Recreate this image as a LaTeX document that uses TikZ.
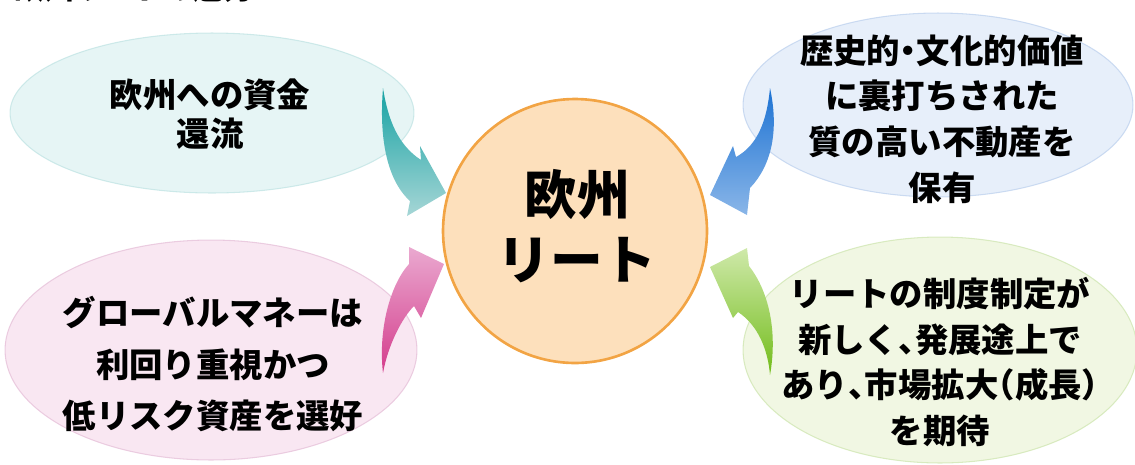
\documentclass[tikz,border=0pt]{standalone}
\usepackage{fontspec}
\newfontfamily\jp{Noto Sans CJK JP}
\usetikzlibrary{calc,shapes.geometric,positioning}
\definecolor{cyanin}{HTML}{E6F5F5}\definecolor{cyanout}{HTML}{BDE2E2}
\definecolor{pinkin}{HTML}{F9E7F2}\definecolor{pinkout}{HTML}{E4BCD6}
\definecolor{bluein}{HTML}{E7EFFA}\definecolor{blueout}{HTML}{BACFED}
\definecolor{greenin}{HTML}{F1F7E3}\definecolor{greenout}{HTML}{CCE4AC}
\definecolor{reitin}{HTML}{FDE0BC}\definecolor{reitout}{HTML}{F2A444}
\definecolor{cyandark}{HTML}{16A2A3}\definecolor{cyanlight}{HTML}{A6D6D6}
\definecolor{pinkdark}{HTML}{D43D8C}\definecolor{pinklight}{HTML}{EAA9D0}
\definecolor{bluedark}{HTML}{1C72D3}\definecolor{bluelight}{HTML}{8AB6E8}
\definecolor{greendark}{HTML}{72BC1A}\definecolor{greenlight}{HTML}{CFE9AA}
\colorlet{glowin}{white}\colorlet{glowout}{gray}
\pgfdeclareradialshading[glowin,glowout]{glow}{\pgfpoint{0bp}{0bp}}{color(0bp)=(glowin); color(30bp)=(glowin); color(45bp)=(glowout!60!glowin); color(50bp)=(glowout)}
% narrow punctuation
\newcommand\punctl[1]{\makebox[0.5em][l]{#1}}
\newcommand\punctr[1]{\makebox[0.5em][r]{#1}}
\newcommand\punctc[1]{\makebox[0.5em][c]{#1}}

\begin{document}
\begin{tikzpicture}[x=0.02cm,y=-0.02cm]

\tikzset{bubble/.style={shape=ellipse,inner sep=0pt,shade,shading=glow,draw=glowout,draw opacity=0.7,line width=0.6pt},
glowcols/.style 2 args={/utils/exec={\colorlet{glowin}{#1}\colorlet{glowout}{#2}}},
bubbletext/.style={font=\jp\bfseries\fontsize{19}{26}\selectfont,align=center,inner sep=0pt,text=black}}

\useasboundingbox (0,0) rectangle (1135,464);

% cut title
\node[anchor=south west,inner sep=0pt,font=\jp\bfseries\fontsize{17}{20}\selectfont] (title) at (14,3) {欧州リートの魅力};

% bubbles
\node[bubble,glowcols={cyanin}{cyanout},minimum width=8.08cm,minimum height=3.2cm] (inflow) at (212,113) {};
\node[bubble,glowcols={pinkin}{pinkout},minimum width=8.24cm,minimum height=4.4cm] (money) at (211,350) {};
\node[bubble,glowcols={bluein}{blueout},minimum width=7.8cm,minimum height=3.68cm] (quality) at (938,105) {};
\node[bubble,glowcols={greenin}{greenout},minimum width=7.88cm,minimum height=4.52cm] (growth) at (940,350) {};

\node[bubbletext,font=\jp\bfseries\fontsize{19}{22}\selectfont] (inflowtext) at ($(inflow)+(-2,1)$) {欧州への資金\\還流};
\node[bubbletext,font=\jp\bfseries\fontsize{19}{29.5}\selectfont] (moneytext) at ($(money)+(2,14)$) {グローバルマネーは\\利回り重視かつ\\低リスク資産を選好};
\node[bubbletext] (qualitytext) at ($(quality)+(4,14)$) {歴史的\punctc{・}文化的価値\\に裏打ちされた\\質の高い不動産を\\保有};
\node[bubbletext] (growthtext) at ($(growth)+(0,12)$) {リートの制度制定が\\新しく\punctl{、}発展途上で\\あり\punctl{、}市場拡大\punctr{（}成長\punctl{）}\\を期待};

% centre
\node[bubble,glowcols={reitin}{reitout},shape=circle,minimum size=5.28cm,draw=reitout,draw opacity=1,line width=1.5pt] (reit) at (575,231) {};
\node[bubbletext,font=\jp\bfseries\fontsize{30}{37}\selectfont] (reittext) at ($(reit)+(2,-5)$) {欧州\\リート};

% curved arrows
\shade[top color=cyandark,bottom color=cyanlight] (383,88) .. controls (388,120) and (398,145) .. (421,160) -- (420,146) -- (446,193) -- (407,216) -- (410,201) .. controls (392,185) and (378,150) .. cycle;
\shade[top color=pinklight,bottom color=pinkdark] (383,373) .. controls (378,330) and (390,285) .. (409,264) -- (409,247) -- (444,264) -- (421,318) -- (414,306) .. controls (402,318) and (388,345) .. cycle;
\shade[top color=bluedark,bottom color=bluelight] (770,88) .. controls (779,130) and (772,165) .. (750,188) -- (747,215) -- (710,195) -- (733,146) -- (736,157) .. controls (758,145) and (767,120) .. cycle;
\shade[top color=greenlight,bottom color=greendark] (770,375) .. controls (778,330) and (768,290) .. (749,266) -- (747,248) -- (710,267) -- (733,318) -- (738,312) .. controls (758,325) and (768,350) .. cycle;

\end{tikzpicture}
\end{document}
